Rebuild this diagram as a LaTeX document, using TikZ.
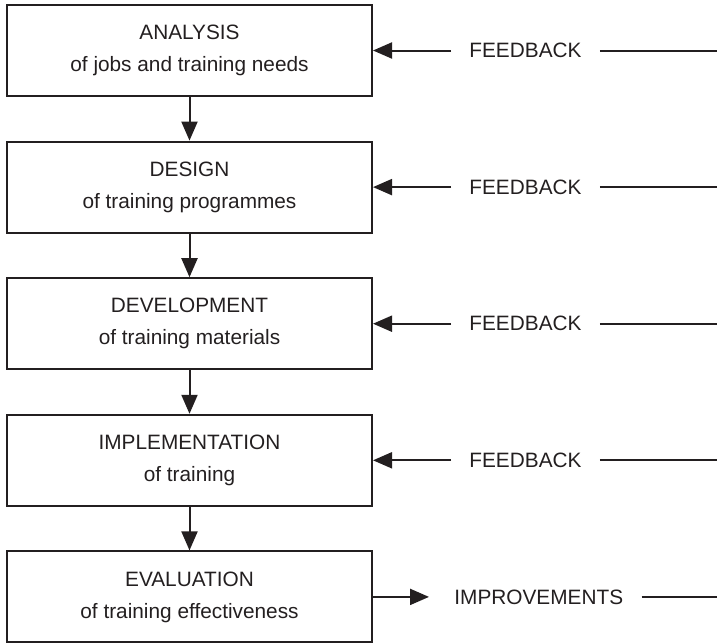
\documentclass[tikz,border=0pt]{standalone}
\usepackage{fontspec}
\setmainfont{Liberation Sans}
\usetikzlibrary{positioning}
\usetikzlibrary{arrows.meta}

\definecolor{ink}{RGB}{35,31,32}

\begin{document}
\begin{tikzpicture}[node distance=21.8pt, font=\fontsize{10.4}{16}\selectfont, text=ink]

\tikzstyle{stage}=[rectangle, draw=ink, line width=1pt,
  minimum width=182.5pt, minimum height=45.5pt, align=center, inner sep=0pt]
\tikzstyle{remark}=[inner xsep=9pt, inner ysep=0pt]

\tikzstyle{arrflow}=[-{Triangle[length=9.5pt,width=8pt]}, line width=1pt, draw=ink]
\tikzstyle{arrline}=[line width=1pt, draw=ink]

\useasboundingbox (0,0) rectangle (358.5pt,-321.5pt);
\coordinate (rim) at (358.5pt,0);

\node [stage] (analysis) at (94.75pt,-25.25pt) {ANALYSIS\\of jobs and training needs};
\node [stage, below=of analysis] (design) {DESIGN\\of training programmes};
\draw [arrflow] (analysis) -- (design);
\node [stage, below=of design] (development) {DEVELOPMENT\\of training materials};
\draw [arrflow] (design) -- (development);
\node [stage, below=of development] (implementation) {IMPLEMENTATION\\of training};
\draw [arrflow] (development) -- (implementation);
\node [stage, below=of implementation] (evaluation) {EVALUATION\\of training effectiveness};
\draw [arrflow] (implementation) -- (evaluation);

\node [remark, right=39pt of analysis] (fbanalysis) {FEEDBACK};
\draw [arrflow] (fbanalysis) -- (analysis);
\draw [arrline] (fbanalysis.east) -- (fbanalysis.east -| rim);

\node [remark, right=39pt of design] (fbdesign) {FEEDBACK};
\draw [arrflow] (fbdesign) -- (design);
\draw [arrline] (fbdesign.east) -- (fbdesign.east -| rim);

\node [remark, right=39pt of development] (fbdevelopment) {FEEDBACK};
\draw [arrflow] (fbdevelopment) -- (development);
\draw [arrline] (fbdevelopment.east) -- (fbdevelopment.east -| rim);

\node [remark, right=39pt of implementation] (fbimplementation) {FEEDBACK};
\draw [arrflow] (fbimplementation) -- (implementation);
\draw [arrline] (fbimplementation.east) -- (fbimplementation.east -| rim);

\node [remark, right=31.5pt of evaluation] (improvements) {IMPROVEMENTS};
\draw [arrflow, shorten >=3.5pt] (evaluation) -- (improvements);
\draw [arrline] (improvements.east) -- (improvements.east -| rim);

\end{tikzpicture}
\end{document}
